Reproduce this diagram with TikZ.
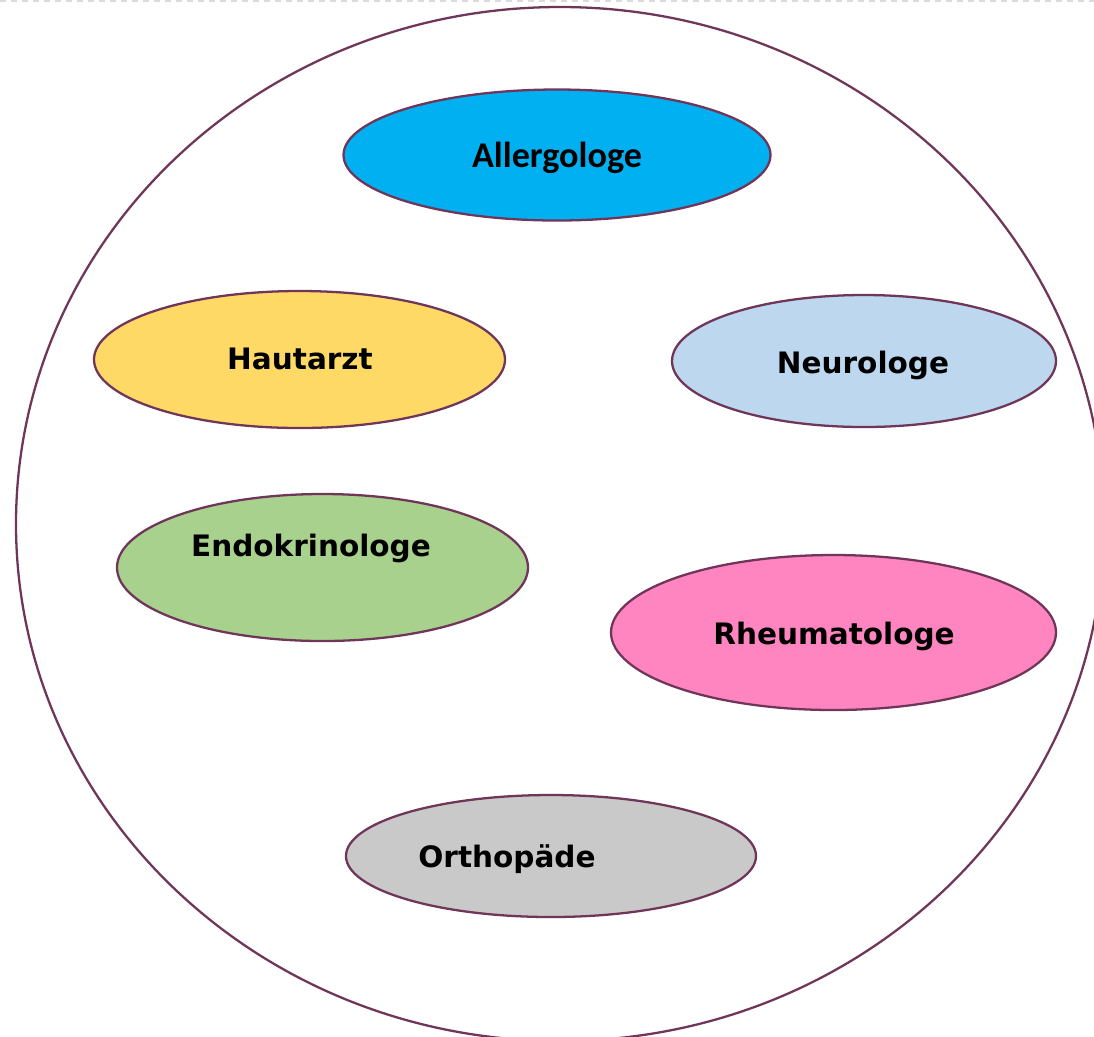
\documentclass[tikz,border=0pt]{standalone}
\usepackage{fontspec}
\newfontfamily\calibrifont{Carlito}
\newfontfamily\verdanafont{DejaVu Sans}
\usepackage{xcolor}
\usepackage{tikz}
\usetikzlibrary{shapes.geometric}
\definecolor{cRim}{HTML}{70365A}
\definecolor{cAllergo}{HTML}{00B0F0}
\definecolor{cHaut}{HTML}{FFD966}
\definecolor{cNeuro}{HTML}{BDD7EE}
\definecolor{cEndo}{HTML}{A9D18E}
\definecolor{cRheuma}{HTML}{FF85C0}
\definecolor{cOrtho}{HTML}{C9C9C9}

\begin{document}
\begin{tikzpicture}[
  x=0.02cm, y=-0.02cm,
  rim/.style  = {draw=cRim, line width=1.3pt},
  fach/.style = {ellipse, draw=cRim, line width=1.3pt, inner sep=0pt},
  lbl/.style  = {anchor=base, inner sep=0pt, text=black},
  cal/.style  = {font=\calibrifont\bfseries\fontsize{20.6}{24}\selectfont},
  ver/.style  = {font=\verdanafont\bfseries\fontsize{16.8}{20}\selectfont},
  edge/.style = {draw=black!14, line width=0.6pt, dash pattern=on 0.12cm off 0.1cm},
]
\useasboundingbox (0,0) rectangle (1094,1036);
\clip (0,0) rectangle (1094,1036);
% faint page edge along the top
\coordinate (pgL) at (0,1);
\coordinate (pgR) at (1094,1);
\draw[edge] (pgL) -- (pgR);
% the big circle round all specialists
\node[ellipse, rim, minimum width=1088*0.02cm, minimum height=1034*0.02cm,
      inner sep=0pt] (ring) at (560,524) {};
\foreach \id/\cx/\cy/\w/\h/\col/\tx/\ty/\fnt/\txt in {
  allergo/557/155/427/131/cAllergo/557/167/cal/{Allergologe},
  haut/299.5/359.5/411/137/cHaut/300/369/ver/{Hautarzt},
  neuro/864/361/384/132/cNeuro/863/373/ver/{Neurologe},
  endo/322.5/567.5/411/147/cEndo/311/556/ver/{Endokrinologe},
  rheuma/833.5/632.5/445/155/cRheuma/834/644/ver/{Rheumatologe},
  ortho/551/856/410/122/cOrtho/507/867/ver/{Orthopäde}}
{
  \node[fach, fill=\col, minimum width=\w*0.02cm, minimum height=\h*0.02cm]
    (\id) at (\cx,\cy) {};
  \node[lbl, \fnt] (\id-t) at (\tx,\ty) {\txt};
}
\end{tikzpicture}
\end{document}
